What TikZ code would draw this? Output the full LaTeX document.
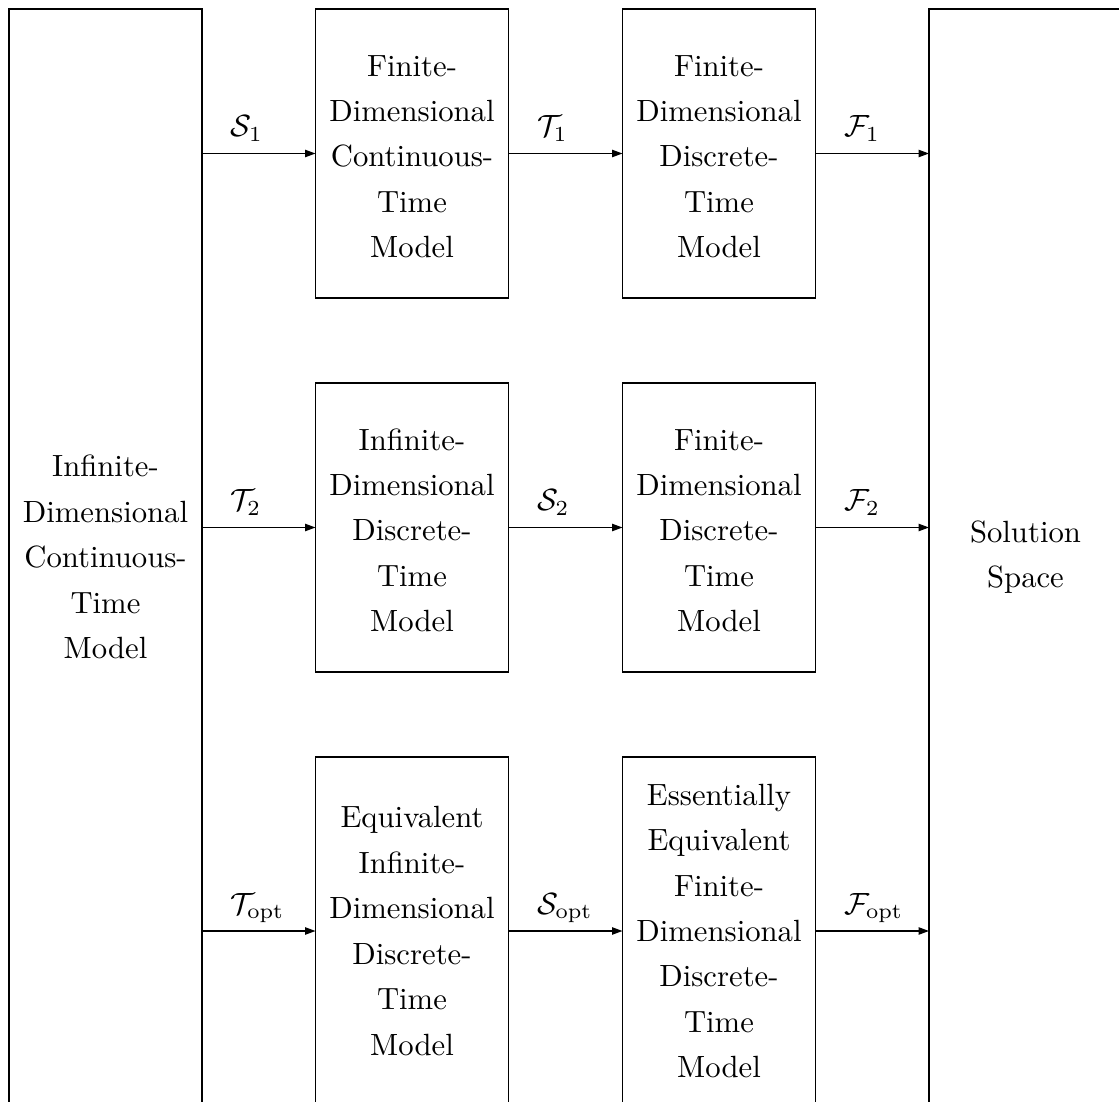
\documentclass[tikz,border=0pt]{standalone}
\usetikzlibrary{arrows.meta,calc}
\newcommand\firstlinestrut{\rule{0pt}{8.9pt}}
\begin{document}
\begin{tikzpicture}[x=0.3257pt,y=-0.3257pt,
  every node/.style={font=\fontsize{10}{14.8}\selectfont},
  blk/.style={draw, line width=0.4pt, inner sep=0pt, outer sep=0pt, align=center,
    minimum width=62.86pt},
  shortblk/.style={blk, minimum height=94.13pt},
  longblk/.style={blk, minimum height=113.34pt},
  tallblk/.style={blk, minimum height=356.97pt},
  arr/.style={line width=0.4pt, -{Stealth[length=3.4pt,width=2.4pt,inset=0pt]}},
  lab/.style={anchor=base west, inner sep=0pt}]
\useasboundingbox (0,0) rectangle (1119,1102);
\clip (0,0) rectangle (1119,1102);
% tall boxes
\node[tallblk] (L) at (105.5,557) {Infinite-\\Dimensional\\Continuous-\\Time\\Model};
\node[tallblk] (R) at (1025.5,557) {Solution\\Space};
% row 1
\node[shortblk] (a1) at (412,153.5) {\firstlinestrut Finite-\\Dimensional\\Continuous-\\Time\\Model};
\node[shortblk] (b1) at (719,153.5) {\firstlinestrut Finite-\\Dimensional\\Discrete-\\Time\\Model};
% row 2
\node[shortblk] (a2) at (412,527.5) {\firstlinestrut Infinite-\\Dimensional\\Discrete-\\Time\\Model};
\node[shortblk] (b2) at (719,527.5) {\firstlinestrut Finite-\\Dimensional\\Discrete-\\Time\\Model};
% row 3
\node[longblk] (a3) at (412,931) {Equivalent\\Infinite-\\Dimensional\\Discrete-\\Time\\Model};
\node[longblk] (b3) at (719,931) {Essentially\\Equivalent\\Finite-\\Dimensional\\Discrete-\\Time\\Model};
% connectors
\coordinate (l1) at (L.east |- a1.west);
\coordinate (l2) at (L.east |- a2.west);
\coordinate (l3) at (L.east |- a3.west);
\coordinate (r1) at (R.west |- b1.east);
\coordinate (r2) at (R.west |- b2.east);
\coordinate (r3) at (R.west |- b3.east);
\draw[arr] (l1) -- (a1.west);
\draw[arr] (a1.east) -- (b1.west);
\draw[arr] (b1.east) -- (r1);
\draw[arr] (l2) -- (a2.west);
\draw[arr] (a2.east) -- (b2.west);
\draw[arr] (b2.east) -- (r2);
\draw[arr] (l3) -- (a3.west);
\draw[arr] (a3.east) -- (b3.west);
\draw[arr] (b3.east) -- (r3);
% labels
\node[lab] (ls1) at ($(l1)+(28,-17)$) {$\mathcal{S}_1$};
\node[lab] (lt1) at ($(a1.east)+(28,-17)$) {$\mathcal{T}_1$};
\node[lab] (lf1) at ($(b1.east)+(28,-17)$) {$\mathcal{F}_1$};
\node[lab] (lt2) at ($(l2)+(28,-17)$) {$\mathcal{T}_2$};
\node[lab] (ls2) at ($(a2.east)+(28,-17)$) {$\mathcal{S}_2$};
\node[lab] (lf2) at ($(b2.east)+(28,-17)$) {$\mathcal{F}_2$};
\node[lab] (lt3) at ($(l3)+(28,-17)$) {$\mathcal{T}_{\mathrm{opt}}$};
\node[lab] (ls3) at ($(a3.east)+(28,-17)$) {$\mathcal{S}_{\mathrm{opt}}$};
\node[lab] (lf3) at ($(b3.east)+(28,-17)$) {$\mathcal{F}_{\mathrm{opt}}$};
\end{tikzpicture}
\end{document}
